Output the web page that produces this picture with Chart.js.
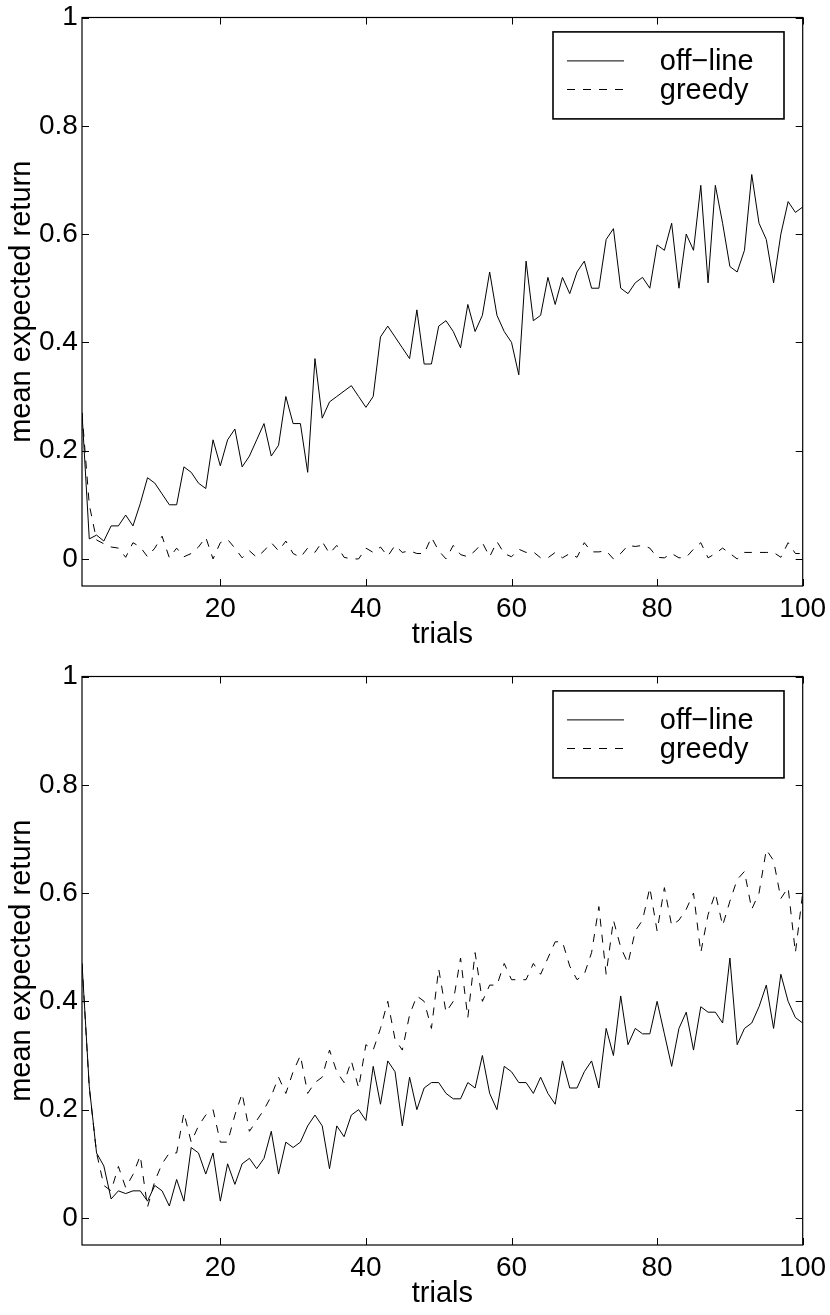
<!DOCTYPE html>
<html>
<head>
<meta charset="utf-8">
<script src="https://cdn.jsdelivr.net/npm/chart.js@4.4.0/dist/chart.umd.min.js"></script>
<style>
html, body { margin: 0; padding: 0; background: #fff; }
.wrap { position: absolute; left: 0; width: 830px; height: 656px; }
</style>
</head>
<body>
<div class="wrap" style="top:0"><canvas id="top" width="830" height="656"></canvas></div>
<div class="wrap" style="top:659px"><canvas id="bottom" width="830" height="656"></canvas></div>
<script>
// trials 1..100
const trials = Array.from({length: 100}, (_, i) => i + 1);

const xTicks = [20, 40, 60, 80, 100];
const xTickLabels = ['20', '40', '60', '80', '100'];
const yTicks = [0, 0.2, 0.4, 0.6, 0.8, 1];
const yTickLabels = ['0', '0.2', '0.4', '0.6', '0.8', '1'];
const seriesNames = ['off\u2212line', 'greedy'];

// upper panel
const offlineTop = [
  0.27, 0.037, 0.044, 0.033, 0.061, 0.061, 0.081, 0.061, 0.102, 0.15,
  0.14, 0.12, 0.10, 0.10, 0.17, 0.16, 0.14, 0.13, 0.22, 0.172,
  0.22, 0.24, 0.17, 0.19, 0.22, 0.25, 0.19, 0.21, 0.30, 0.25,
  0.25, 0.16, 0.37, 0.26, 0.29, 0.30, 0.31, 0.32, 0.30, 0.28,
  0.30, 0.41, 0.43, 0.41, 0.39, 0.37, 0.46, 0.36, 0.36, 0.43,
  0.44, 0.42, 0.39, 0.47, 0.42, 0.45, 0.53, 0.45, 0.42, 0.40,
  0.34, 0.55, 0.44, 0.45, 0.52, 0.47, 0.52, 0.49, 0.53, 0.55,
  0.50, 0.50, 0.59, 0.61, 0.50, 0.49, 0.51, 0.52, 0.50, 0.58,
  0.57, 0.62, 0.50, 0.60, 0.57, 0.69, 0.51, 0.69, 0.62, 0.54,
  0.53, 0.57, 0.71, 0.62, 0.59, 0.51, 0.60, 0.66, 0.64, 0.65
];
const greedyTop = [
  0.27, 0.10, 0.035, 0.028, 0.022, 0.02, 0.003, 0.03, 0.022, 0.004,
  0.02, 0.042, 0.002, 0.02, 0.004, 0.01, 0.022, 0.04, 0.0, 0.03,
  0.036, 0.02, 0.002, 0.015, 0.003, 0.015, 0.03, 0.015, 0.033, 0.01,
  0.003, 0.02, 0.012, 0.032, 0.01, 0.025, 0.003, 0.0, 0.0, 0.02,
  0.012, 0.022, 0.005, 0.025, 0.012, 0.015, 0.01, 0.01, 0.04, 0.015,
  0.0, 0.025, 0.008, 0.004, 0.015, 0.03, 0.004, 0.032, 0.01, 0.004,
  0.018, 0.012, 0.013, 0.002, 0.002, 0.012, 0.002, 0.01, 0.003, 0.03,
  0.013, 0.013, 0.015, 0.0, 0.01, 0.025, 0.023, 0.025, 0.02, 0.003,
  0.002, 0.01, 0.002, 0.003, 0.018, 0.03, 0.002, 0.01, 0.02, 0.01,
  0.0, 0.012, 0.012, 0.012, 0.012, 0.012, 0.003, 0.03, 0.01, 0.01
];

// lower panel
const offlineBottom = [
  0.47, 0.243, 0.12, 0.096, 0.035, 0.05, 0.045, 0.05, 0.05, 0.031,
  0.06, 0.05, 0.022, 0.071, 0.031, 0.13, 0.12, 0.081, 0.12, 0.031,
  0.10, 0.062, 0.10, 0.11, 0.091, 0.11, 0.16, 0.081, 0.14, 0.13,
  0.14, 0.17, 0.19, 0.17, 0.091, 0.17, 0.15, 0.19, 0.20, 0.18,
  0.28, 0.21, 0.29, 0.27, 0.17, 0.26, 0.20, 0.24, 0.25, 0.25,
  0.23, 0.22, 0.22, 0.25, 0.24, 0.30, 0.23, 0.20, 0.28, 0.27,
  0.25, 0.25, 0.23, 0.26, 0.23, 0.21, 0.29, 0.24, 0.24, 0.27,
  0.29, 0.24, 0.35, 0.30, 0.41, 0.32, 0.35, 0.34, 0.34, 0.40,
  0.34, 0.28, 0.35, 0.38, 0.31, 0.39, 0.38, 0.38, 0.36, 0.48,
  0.32, 0.35, 0.36, 0.39, 0.43, 0.35, 0.45, 0.40, 0.37, 0.36
];
const greedyBottom = [
  0.47, 0.24, 0.12, 0.06, 0.05, 0.095, 0.056, 0.08, 0.115, 0.02,
  0.068, 0.10, 0.12, 0.12, 0.194, 0.14, 0.17, 0.19, 0.20, 0.14,
  0.14, 0.19, 0.23, 0.16, 0.18, 0.20, 0.225, 0.26, 0.23, 0.27,
  0.30, 0.23, 0.25, 0.26, 0.31, 0.27, 0.25, 0.29, 0.24, 0.32,
  0.31, 0.35, 0.40, 0.33, 0.31, 0.375, 0.41, 0.40, 0.35, 0.46,
  0.38, 0.40, 0.48, 0.37, 0.49, 0.40, 0.43, 0.43, 0.47, 0.44,
  0.44, 0.44, 0.47, 0.45, 0.48, 0.51, 0.51, 0.465, 0.44, 0.45,
  0.49, 0.575, 0.45, 0.55, 0.50, 0.47, 0.53, 0.55, 0.61, 0.53,
  0.61, 0.54, 0.55, 0.57, 0.60, 0.49, 0.56, 0.60, 0.54, 0.585,
  0.625, 0.64, 0.57, 0.60, 0.68, 0.66, 0.59, 0.61, 0.49, 0.60
];

const FONT = 'Liberation Sans, Arial, Helvetica, sans-serif';

// box around the axes, inward ticks, and the legend inside the plot
const frame = {
  id: 'frame',
  afterDatasetsDraw(chart) {
    const {ctx, chartArea: a, scales: {x, y}} = chart;
    ctx.save();
    ctx.strokeStyle = '#000';
    ctx.lineWidth = 1.2;
    ctx.strokeRect(a.left, a.top, a.right - a.left, a.bottom - a.top);
    ctx.lineWidth = 1;
    ctx.beginPath();
    xTicks.forEach(v => {
      const px = Math.round(x.getPixelForValue(v)) + 0.5;
      ctx.moveTo(px, a.bottom); ctx.lineTo(px, a.bottom - 7);
      ctx.moveTo(px, a.top); ctx.lineTo(px, a.top + 7);
    });
    yTicks.forEach(v => {
      const py = Math.round(y.getPixelForValue(v)) + 0.5;
      ctx.moveTo(a.left, py); ctx.lineTo(a.left + 7, py);
      ctx.moveTo(a.right, py); ctx.lineTo(a.right - 7, py);
    });
    ctx.stroke();

    // legend
    const bw = 231, bh = 87;
    const bx = a.right - 18.7 - bw, by = a.top + 14.4;
    ctx.fillStyle = '#fff';
    ctx.fillRect(bx, by, bw, bh);
    ctx.lineWidth = 1.6;
    ctx.strokeRect(bx, by, bw, bh);
    ctx.font = '29px ' + FONT;
    ctx.textBaseline = 'middle';
    ctx.textAlign = 'left';
    chart.data.datasets.forEach((ds, i) => {
      const ly = by + 29 + i * 28.6;
      ctx.lineWidth = 1;
      ctx.setLineDash(ds.borderDash || []);
      ctx.beginPath();
      ctx.moveTo(bx + 14, ly); ctx.lineTo(bx + 71, ly);
      ctx.stroke();
      ctx.setLineDash([]);
      ctx.fillStyle = '#000';
      ctx.fillText(ds.label, bx + 106.8, ly + 1.5);
    });
    ctx.restore();
  }
};

function makeChart(id, off, greedy) {
  const ctx = document.getElementById(id).getContext('2d');
  return new Chart(ctx, {
    type: 'line',
    data: {
      datasets: [{
        label: seriesNames[0],
        data: trials.map((t, i) => ({x: t, y: off[i]})),
        borderColor: '#000',
        borderWidth: 1,
        pointRadius: 0,
        tension: 0
      }, {
        label: seriesNames[1],
        data: trials.map((t, i) => ({x: t, y: greedy[i]})),
        borderColor: '#000',
        borderWidth: 1,
        borderDash: [8, 8],
        pointRadius: 0,
        tension: 0
      }]
    },
    options: {
      responsive: false,
      animation: false,
      devicePixelRatio: 1,
      layout: {padding: {left: 0, right: 27.3, top: 17.5, bottom: 0}},
      plugins: {legend: {display: false}, tooltip: {enabled: false}},
      scales: {
        x: {
          type: 'linear',
          min: 1,
          max: 100,
          grid: {display: false, drawTicks: false},
          border: {display: false},
          afterBuildTicks: s => { s.ticks = xTicks.map(v => ({value: v})); },
          afterFit: s => { s.height = 70; s.paddingLeft = 0; s.paddingRight = 0; },
          ticks: {
            color: '#000',
            font: {family: FONT, size: 28},
            padding: 6.5,
            maxRotation: 0,
            autoSkip: false,
            callback: v => xTickLabels[xTicks.indexOf(v)]
          },
          title: {
            display: true,
            text: 'trials',
            color: '#000',
            font: {family: FONT, size: 29},
            padding: {top: 0, bottom: 3.6}
          }
        },
        y: {
          type: 'linear',
          min: -0.05,
          max: 1,
          grid: {display: false, drawTicks: false},
          border: {display: false},
          afterBuildTicks: s => { s.ticks = yTicks.map(v => ({value: v})); },
          afterFit: s => { s.width = 82; s.paddingTop = 0; s.paddingBottom = 0; },
          ticks: {
            color: '#000',
            font: {family: FONT, size: 28},
            padding: 4.2,
            callback: v => yTickLabels[yTicks.indexOf(v)]
          },
          title: {
            display: true,
            text: 'mean expected return',
            color: '#000',
            font: {family: FONT, size: 29},
            padding: {top: 4.3, bottom: 0}
          }
        }
      }
    },
    plugins: [frame]
  });
}

makeChart('top', offlineTop, greedyTop);
makeChart('bottom', offlineBottom, greedyBottom);
</script>
</body>
</html>
